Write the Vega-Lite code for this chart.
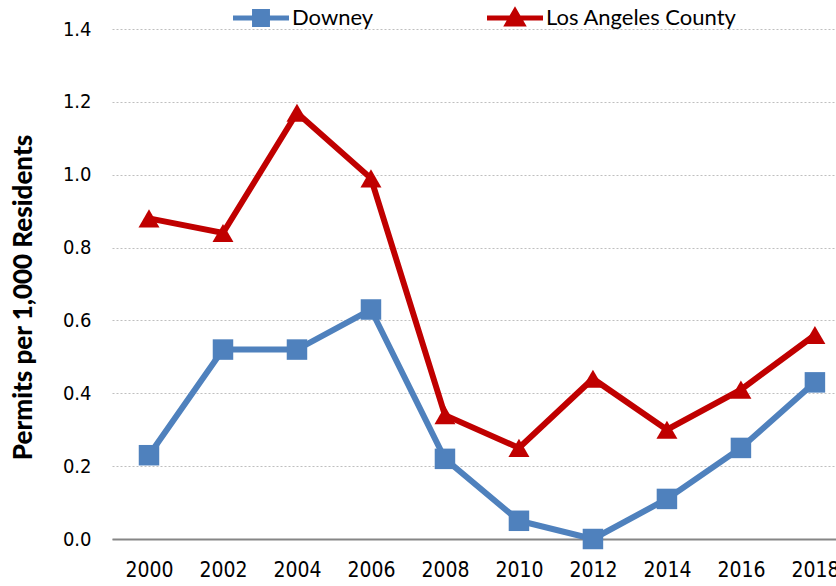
{
  "$schema": "https://vega.github.io/schema/vega-lite/v6.json",
  "width": 724,
  "height": 510,
  "autosize": "none",
  "padding": {"left": 112, "top": 29, "right": 0, "bottom": 47},
  "background": "white",
  "config": {"view": {"stroke": null}},
  "data": {"values": [
    {"year": 2000, "series": "Downey", "v": 0.23},
    {"year": 2002, "series": "Downey", "v": 0.52},
    {"year": 2004, "series": "Downey", "v": 0.52},
    {"year": 2006, "series": "Downey", "v": 0.63},
    {"year": 2008, "series": "Downey", "v": 0.22},
    {"year": 2010, "series": "Downey", "v": 0.05},
    {"year": 2012, "series": "Downey", "v": 0.0},
    {"year": 2014, "series": "Downey", "v": 0.11},
    {"year": 2016, "series": "Downey", "v": 0.25},
    {"year": 2018, "series": "Downey", "v": 0.43},
    {"year": 2000, "series": "Los Angeles County", "v": 0.88},
    {"year": 2002, "series": "Los Angeles County", "v": 0.84},
    {"year": 2004, "series": "Los Angeles County", "v": 1.17},
    {"year": 2006, "series": "Los Angeles County", "v": 0.99},
    {"year": 2008, "series": "Los Angeles County", "v": 0.34},
    {"year": 2010, "series": "Los Angeles County", "v": 0.25},
    {"year": 2012, "series": "Los Angeles County", "v": 0.44},
    {"year": 2014, "series": "Los Angeles County", "v": 0.30},
    {"year": 2016, "series": "Los Angeles County", "v": 0.41},
    {"year": 2018, "series": "Los Angeles County", "v": 0.56}
  ]},
  "encoding": {
    "x": {"field": "year", "type": "quantitative",
      "scale": {"domain": [1999, 2018.57], "nice": false, "zero": false},
      "axis": {"title": null, "values": [2000, 2002, 2004, 2006, 2008, 2010, 2012, 2014, 2016, 2018],
        "format": "d", "grid": false, "ticks": false, "domainColor": "#868686", "domainWidth": 2,
        "labelFont": "DejaVu Sans Condensed", "labelFontSize": 21, "labelColor": "#000000",
        "labelPadding": 20, "labelFlush": false, "labelOverlap": false}},
    "y": {"field": "v", "type": "quantitative",
      "scale": {"domain": [0, 1.4], "nice": false},
      "axis": {"title": "Permits per 1,000 Residents", "values": [0, 0.2, 0.4, 0.6, 0.8, 1.0, 1.2, 1.4],
        "format": ".1f", "domain": false, "ticks": false,
        "gridColor": "#BFBFBF", "gridDash": [2, 2], "gridWidth": 1,
        "labelFont": "DejaVu Sans Condensed", "labelFontSize": 20, "labelColor": "#000000",
        "labelPadding": 21,
        "titleFont": "Lato", "titleFontWeight": 900, "titleFontSize": 26, "titleColor": "#000000",
        "titlePadding": 26, "titleY": 268}},
    "color": {"field": "series", "type": "nominal",
      "scale": {"domain": ["Downey", "Los Angeles County"], "range": ["#4F81BD", "#C00000"]},
      "legend": {"title": null, "orient": "none", "direction": "horizontal",
        "legendX": 121, "legendY": -39,
        "symbolSize": 3136, "symbolStrokeWidth": 0, "symbolOpacity": 1,
        "labelFont": "Lato", "labelFontSize": 22, "labelColor": "#000000", "labelOffset": 3,
        "labelLimit": 400, "columnPadding": 113,
        "encode": {"symbols": {"update": {
          "shape": {"signal": "datum.value === 'Downey' ? 'M-1,-0.09H1V0.09H-1Z M-0.32,-0.32H0.32V0.32H-0.32Z' : 'M-1,-0.09H1V0.09H-1Z M0,-0.42L0.42,0.3H-0.42Z'"},
          "fill": {"signal": "datum.value === 'Downey' ? '#4F81BD' : '#C00000'"},
          "size": {"value": 3136},
          "strokeWidth": {"value": 0},
          "opacity": {"value": 1}
        }}}}}
  },
  "layer": [
    {"mark": {"type": "line", "strokeWidth": 6}},
    {"transform": [{"filter": "datum.series === 'Downey'"}],
      "mark": {"type": "point", "filled": true, "opacity": 1, "shape": "square", "size": 420}},
    {"transform": [{"filter": "datum.series === 'Los Angeles County'"}],
      "mark": {"type": "point", "filled": true, "opacity": 1, "shape": "triangle-up", "size": 440}}
  ]
}
